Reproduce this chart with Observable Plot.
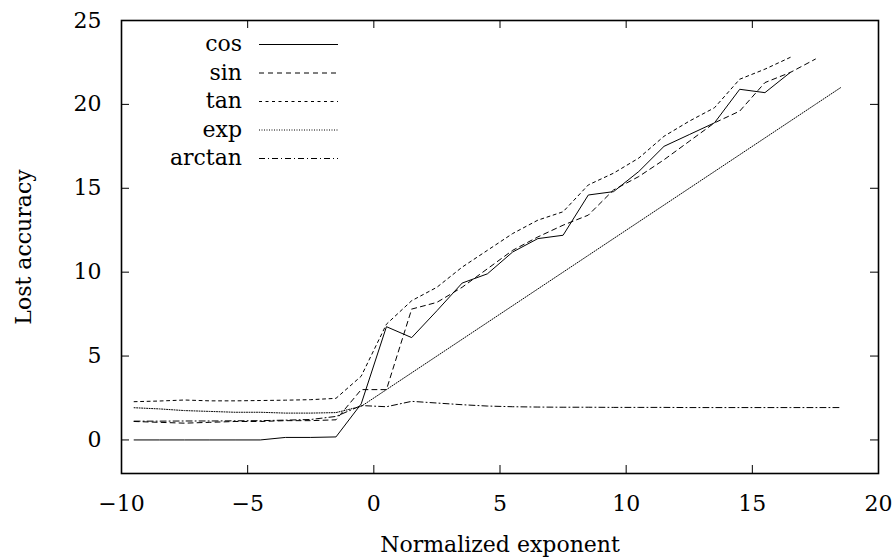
<!DOCTYPE html>
<html>
<head>
<meta charset="utf-8">
<script src="https://cdn.jsdelivr.net/npm/d3@7"></script>
<script src="https://cdn.jsdelivr.net/npm/@observablehq/plot@0.6"></script>
<style>
  html, body { margin: 0; padding: 0; background: #fff; }
  #wrap { position: relative; width: 895px; height: 557px; }
  #legend { position: absolute; left: 0; top: 0; pointer-events: none; }
</style>
</head>
<body>
<div id="wrap"></div>
<script>
// x positions (normalized exponent), shared by all series
const xs = [-9.5,-8.5,-7.5,-6.5,-5.5,-4.5,-3.5,-2.5,-1.5,-0.5,0.5,1.5,2.5,3.5,4.5,5.5,6.5,7.5,8.5,9.5,10.5,11.5,12.5,13.5,14.5,15.5,16.5,17.5,18.5];

const cosVals = [0,0,0,0,0,0,0.15,0.15,0.18,2.15,6.75,6.1,7.7,9.35,9.9,11.2,12.0,12.2,14.6,14.8,16.0,17.5,18.2,18.9,20.9,20.7,21.9];
const sinVals = [1.1,1.05,1.0,1.05,1.1,1.1,1.15,1.15,1.2,3.0,3.0,7.8,8.2,9.1,10.2,11.3,12.1,12.8,13.4,14.9,15.7,16.7,17.8,18.9,19.6,21.3,21.9,22.7];
const tanVals = [2.28,2.32,2.38,2.33,2.33,2.35,2.37,2.4,2.48,3.8,6.9,8.3,9.1,10.3,11.3,12.3,13.1,13.6,15.2,15.9,16.8,18.1,19.0,19.8,21.5,22.1,22.8];
const expVals = [1.92,1.85,1.75,1.7,1.65,1.65,1.6,1.6,1.63,2.0,3.0,4.0,5.0,6.0,7.0,8.0,9.0,10.0,11.0,12.0,13.0,14.0,15.0,16.0,17.0,18.0,19.0,20.0,21.0];
const arctanVals = [1.12,1.12,1.13,1.13,1.14,1.15,1.18,1.22,1.4,2.05,1.98,2.3,2.2,2.1,2.02,1.98,1.96,1.95,1.95,1.94,1.94,1.94,1.93,1.93,1.93,1.93,1.93,1.93,1.93];

const xTicks = [-10,-5,0,5,10,15,20];
const yTicks = [0,5,10,15,20,25];

const seriesNames = ["cos","sin","tan","exp","arctan"];
const seriesVals = [cosVals, sinVals, tanVals, expVals, arctanVals];
const dashes = ["none","5,4","3,3.5","1,1.5","6,3,1,3"];

const W = 895, H = 557;
const mLeft = 121, mRight = 17, mTop = 20, mBottom = 84;
const innerW = W - mLeft - mRight, innerH = H - mTop - mBottom;
const tickLen = 8;
const font = "'DejaVu Serif', 'Liberation Serif', serif";
const fs = 22;

const toRows = (vals) => vals.map((v, i) => ({x: xs[i], y: v}));

const lineMarks = seriesVals.map((vals, i) =>
  Plot.line(toRows(vals), {x: "x", y: "y", stroke: "#000", strokeWidth: 1, strokeDasharray: dashes[i] === "none" ? undefined : dashes[i]})
);

const chart = Plot.plot({
  width: W, height: H,
  marginLeft: mLeft, marginRight: mRight, marginTop: mTop, marginBottom: mBottom,
  style: {fontFamily: font, fontSize: fs + "px", background: "#fff", color: "#000"},
  x: {domain: [-10, 20]},
  y: {domain: [-2, 25]},
  marks: [
    ...lineMarks,
    // inward ticks on all four sides
    Plot.tickX(xTicks, {x: d => d, insetTop: innerH - tickLen, stroke: "#000", strokeWidth: 1}),
    Plot.tickX(xTicks, {x: d => d, insetBottom: innerH - tickLen, stroke: "#000", strokeWidth: 1}),
    Plot.tickY(yTicks, {y: d => d, insetRight: innerW - tickLen, stroke: "#000", strokeWidth: 1}),
    Plot.tickY(yTicks, {y: d => d, insetLeft: innerW - tickLen, stroke: "#000", strokeWidth: 1}),
    Plot.frame({stroke: "#000", strokeWidth: 1.6}),
    Plot.axisX(xTicks, {tickSize: 0, tickPadding: 22, fontSize: fs, label: "Normalized exponent", labelAnchor: "center", labelOffset: 78, labelArrow: "none"}),
    Plot.axisY(yTicks, {tickSize: 0, tickPadding: 20, fontSize: fs, label: "Lost accuracy", labelAnchor: "center", labelOffset: 106, labelArrow: "none"})
  ]
});

const wrap = document.getElementById("wrap");
wrap.appendChild(chart);

// Legend overlay (inside plot area, top-left)
const leg = d3.select(wrap).append("svg")
  .attr("id", "legend").attr("width", W).attr("height", H);
const rowY0 = 44, rowStep = 28.5;
seriesNames.forEach((name, i) => {
  const y = rowY0 + i * rowStep;
  leg.append("text")
    .attr("x", 242).attr("y", y).attr("dy", "0.32em")
    .attr("text-anchor", "end")
    .style("font-family", font).style("font-size", fs + "px")
    .text(name);
  leg.append("line")
    .attr("x1", 259).attr("x2", 338).attr("y1", y + 0.5).attr("y2", y + 0.5)
    .attr("stroke", "#000").attr("stroke-width", 1)
    .attr("stroke-dasharray", dashes[i] === "none" ? null : dashes[i]);
});
</script>
</body>
</html>
